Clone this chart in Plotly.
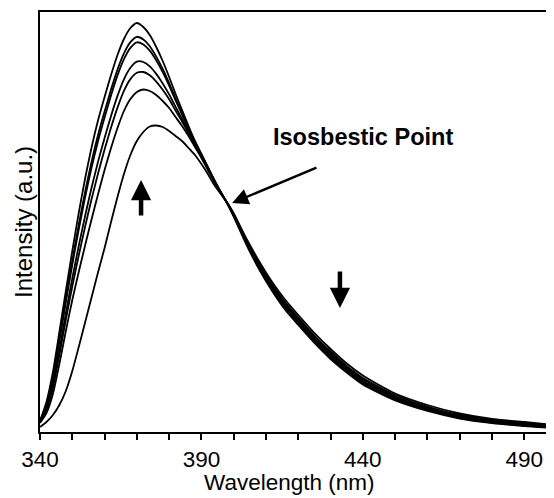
import plotly.graph_objects as go

wavelength = [340, 342, 344, 346, 348, 350, 352, 354, 356, 358, 360, 362, 364, 366, 368,
              370, 372, 374, 376, 378, 380, 382, 384, 386, 388, 390, 392, 394, 396, 398,
              400, 404, 408, 412, 416, 420, 425, 430, 435, 440, 445, 450, 460, 470, 480, 490, 499]

spec1 = [11, 30, 60, 100, 141, 181, 219, 254, 285, 312, 335, 357, 377, 393, 404,
         409, 405, 397, 385, 371, 355, 338, 322, 306, 291, 278, 265, 252, 240, 228.5,
         215.5, 187, 162, 140.5, 122, 107, 89, 73, 59.5, 47.5, 39, 31.5, 21, 13.5, 9, 6, 4]
spec2 = [10.6, 27.8, 55.6, 93.6, 133, 171.2, 207.2, 240.6, 270.6, 297.2, 320.4, 342.4, 362.4, 378.6, 389.8,
         395.2, 392.5, 385.8, 375.4, 363, 348.8, 333.4, 318.8, 304, 289.8, 277.2, 264.4, 251.6, 239.8, 228.6,
         216, 188, 163, 142, 123.5, 108.5, 90.5, 74.5, 61, 49, 40, 32.5, 22, 14, 9.5, 6.5, 4.5]
spec3 = [10.4, 26.9, 53.8, 91, 129.8, 167.3, 202.5, 235.2, 264.8, 291.3, 314.6, 336.6, 356.6, 372.8, 384.1,
         389.7, 387.5, 381.3, 371.6, 359.8, 346.3, 331.6, 317.5, 303.2, 289.3, 276.9, 264.2, 251.4, 239.7, 228.6,
         216.5, 189, 164.5, 143, 125, 110, 92, 76, 62, 50, 41.5, 33.5, 23, 15, 10, 7, 5]
spec4 = [9.9, 23.8, 47.7, 82.1, 118.6, 153.6, 186, 216.5, 244.7, 270.6, 294.1, 316.1, 336.1, 352.7, 364.2,
         370.4, 370, 365.6, 358.1, 348.6, 337.6, 325.1, 313, 300.4, 287.6, 275.8, 263.3, 250.9, 239.4, 228.8,
         217, 189.5, 165.5, 144.5, 126.5, 111.5, 93.5, 77.5, 63.5, 51.5, 42.5, 34.5, 23.5, 15.5, 11, 8, 5.5]
spec5 = [9.6, 22.1, 44.2, 77, 112.2, 145.7, 176.5, 205.8, 233.2, 258.7, 282.4, 304.4, 324.4, 341.2, 352.9,
         359.3, 360, 356.7, 350.4, 342.2, 332.7, 321.4, 310.5, 298.8, 286.7, 275.1, 262.8, 250.6, 239.3, 228.9,
         217.5, 190.5, 167, 146, 128, 113, 95, 79, 65, 53, 44, 35.5, 24.5, 16.5, 11.5, 8.5, 6]
spec6 = [9, 19, 38, 68, 101, 132, 160, 187, 213, 238, 262, 284, 304, 321, 333,
         340, 342.5, 341, 337, 331, 324, 315, 306, 296, 285, 274, 262, 250, 239, 229,
         218, 191.5, 168, 147, 129.5, 114.5, 96.5, 80.5, 66, 54, 45, 37, 25.5, 17, 12, 9, 6.5]
spec7 = [5, 10, 17, 27, 41, 61, 85, 110, 135, 160, 184, 210, 235, 258, 277,
         291, 300, 305.5, 306.5, 305, 301, 296, 291, 284, 277, 268, 258, 247, 238, 229.5,
         218.5, 193, 170, 149.5, 132, 117, 99, 83, 68.5, 56.5, 47, 38.5, 27, 18.5, 13, 10, 7]

spectra = [spec1, spec2, spec3, spec4, spec5, spec6, spec7]

x_ticks = [340, 390, 440, 490]
x_ticklabels = ["340", "390", "440", "490"]

FONT = "Liberation Sans, Arial, Helvetica, sans-serif"

fig = go.Figure()
for s in spectra:
    fig.add_trace(go.Scatter(x=wavelength, y=s, mode="lines",
                             line=dict(color="black", width=1.8, shape="spline", smoothing=0.6),
                             showlegend=False, hoverinfo="skip"))

# the page adds an 8px body margin, so the figure is placed 8px up/left of the target positions
fig.update_layout(
    width=554, height=498,
    margin=dict(l=32, r=8, t=4, b=74, autoexpand=False),
    paper_bgcolor="white", plot_bgcolor="white",
    font=dict(family=FONT, color="black", size=22.5),
    xaxis=dict(range=[340, 499.2], showgrid=False, zeroline=False, automargin=False,
               showline=True, linecolor="black", linewidth=2, mirror=True,
               tickmode="array", tickvals=x_ticks, ticktext=x_ticklabels,
               ticks="outside", ticklen=6, tickwidth=1.5, tickcolor="black",
               tickfont=dict(size=22.5), ticklabelstandoff=0,
               minor=dict(tickmode="linear", tick0=340, dtick=10, ticks="outside",
                          ticklen=6, tickwidth=1.5, tickcolor="black")),
    yaxis=dict(range=[0, 420], showgrid=False, zeroline=False, automargin=False,
               showline=True, linecolor="black", linewidth=2, mirror=False,
               showticklabels=False, ticks=""),
)

# axis titles
fig.add_annotation(x=(289 - 40) / 514, y=-50 / 420, xref="paper", yref="paper",
                   text="Wavelength (nm)", showarrow=False, xanchor="center", yanchor="middle",
                   font=dict(size=22.5, family=FONT, color="black"))
fig.add_annotation(x=(23 - 40) / 514, y=0.5, xref="paper", yref="paper",
                   text="Intensity (a.u.)", showarrow=False, textangle=-90,
                   xanchor="center", yanchor="middle",
                   font=dict(size=24, family=FONT, color="black"))

fig.add_annotation(x=411.5, y=295, xref="x", yref="y", text="<b>Isosbestic Point</b>",
                   showarrow=False, xanchor="left", yanchor="middle",
                   font=dict(size=23.5, family=FONT, color="black"))
fig.add_annotation(x=399.5, y=229, ax=426.1, ay=265, xref="x", yref="y", axref="x", ayref="y",
                   text="", showarrow=True, arrowhead=2, arrowsize=1.3, arrowwidth=2.5,
                   arrowcolor="black", standoff=0)
fig.add_annotation(x=371.3, y=252, ax=371.3, ay=215, xref="x", yref="y", axref="x", ayref="y",
                   text="", showarrow=True, arrowhead=2, arrowsize=0.9, arrowwidth=4.5,
                   arrowcolor="black", standoff=0)
fig.add_annotation(x=432.9, y=124, ax=432.9, ay=162, xref="x", yref="y", axref="x", ayref="y",
                   text="", showarrow=True, arrowhead=2, arrowsize=0.9, arrowwidth=4.5,
                   arrowcolor="black", standoff=0)

fig.write_html("out.html")
